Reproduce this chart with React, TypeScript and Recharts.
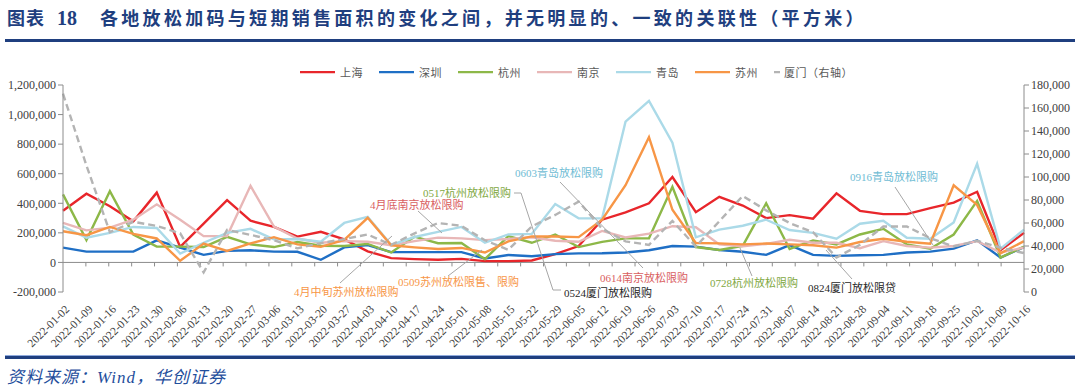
import React from 'react';
import { LineChart, Line, XAxis, YAxis, ReferenceLine } from 'recharts';

// 周度日期
const dates = [
  '2022-01-02', '2022-01-09', '2022-01-16', '2022-01-23', '2022-01-30', '2022-02-06', '2022-02-13',
  '2022-02-20', '2022-02-27', '2022-03-06', '2022-03-13', '2022-03-20', '2022-03-27', '2022-04-03',
  '2022-04-10', '2022-04-17', '2022-04-24', '2022-05-01', '2022-05-08', '2022-05-15', '2022-05-22',
  '2022-05-29', '2022-06-05', '2022-06-12', '2022-06-19', '2022-06-26', '2022-07-03', '2022-07-10',
  '2022-07-17', '2022-07-24', '2022-07-31', '2022-08-07', '2022-08-14', '2022-08-21', '2022-08-28',
  '2022-09-04', '2022-09-11', '2022-09-18', '2022-09-25', '2022-10-02', '2022-10-09', '2022-10-16',
];

// 各城市销售面积（平方米）
const shanghai = [
  350000, 465000, 380000, 278000, 472000, 105000, 262000, 422000, 282000, 240000, 175000, 207000, 156000, 75000,
  29000, 22000, 18000, 24000, 9000, 9000, 13000, 56000, 111000, 289000, 338000, 400000, 578000, 340000,
  444000, 385000, 300000, 320000, 296000, 467000, 349000, 327000, 327000, 367000, 404000, 478000, 84000, 200000,
];
const shenzhen = [
  100000, 73000, 73000, 73000, 149000, 100000, 51000, 78000, 82000, 73000, 72000, 18000, 102000, 118000,
  70000, 70000, 70000, 70000, 27000, 50000, 42000, 56000, 61000, 62000, 67000, 82000, 111000, 107000,
  84000, 72000, 51000, 117000, 51000, 44000, 49000, 51000, 67000, 73000, 93000, 149000, 33000, 104000,
];
const hangzhou = [
  460000, 151000, 482000, 189000, 107000, 107000, 104000, 173000, 122000, 104000, 138000, 113000, 111000, 125000,
  67000, 174000, 130000, 131000, 22000, 178000, 133000, 189000, 104000, 139000, 163000, 163000, 511000, 104000,
  84000, 112000, 400000, 91000, 149000, 122000, 189000, 227000, 122000, 93000, 189000, 416000, 33000, 107000,
];
const nanjing = [
  267000, 217000, 235000, 289000, 393000, 289000, 178000, 178000, 518000, 242000, 162000, 133000, 144000, 140000,
  116000, 144000, 168000, 163000, 151000, 158000, 170000, 147000, 140000, 213000, 169000, 195000, 245000, 238000,
  122000, 109000, 125000, 153000, 133000, 133000, 96000, 144000, 111000, 100000, 111000, 144000, 67000, 100000,
];
const qingdao = [
  244000, 167000, 200000, 240000, 233000, 60000, 133000, 200000, 227000, 156000, 158000, 140000, 267000, 309000,
  119000, 172000, 207000, 240000, 133000, 189000, 193000, 395000, 298000, 298000, 952000, 1093000, 810000, 170000,
  222000, 248000, 289000, 219000, 200000, 160000, 262000, 282000, 167000, 160000, 271000, 667000, 93000, 222000,
];
const suzhou = [
  211000, 184000, 240000, 193000, 162000, 11000, 127000, 78000, 129000, 171000, 122000, 105000, 152000, 302000,
  116000, 102000, 91000, 98000, 67000, 142000, 176000, 175000, 171000, 289000, 522000, 847000, 356000, 131000,
  129000, 122000, 128000, 122000, 116000, 100000, 138000, 160000, 140000, 127000, 522000, 389000, 62000, 144000,
];
// 厦门（右轴）
const xiamen = [
  172500, 110000, 52000, 61000, 57500, 51000, 17000, 54000, 49700, 45000, 38000, 42500, 46000, 50000,
  41000, 51000, 60000, 57500, 45000, 36700, 57000, 67000, 78600, 55000, 44000, 41000, 61800, 39600,
  61500, 83500, 71000, 60000, 52000, 30000, 41000, 57000, 57000, 46800, 39600, 44500, 38500, 33800,
];

const leftTicks = [-200000, 0, 200000, 400000, 600000, 800000, 1000000, 1200000];
const rightTicks = [0, 20000, 40000, 60000, 80000, 100000, 120000, 140000, 160000, 180000];

const SERIF = "'Liberation Serif', 'Times New Roman', 'Noto Sans CJK SC', serif";
const CJK = "'Noto Sans CJK SC', sans-serif";
const NAVY = '#1F3F7F';
const AXIS = '#8C8C8C';
const LABEL = '#404040';

const seriesList = [
  { key: 'sh', name: '上海', values: shanghai, color: '#E8262B', axis: 'left', dash: undefined },
  { key: 'sz', name: '深圳', values: shenzhen, color: '#1F6FC5', axis: 'left', dash: undefined },
  { key: 'hz', name: '杭州', values: hangzhou, color: '#8DB848', axis: 'left', dash: undefined },
  { key: 'nj', name: '南京', values: nanjing, color: '#E8B7B7', axis: 'left', dash: undefined },
  { key: 'qd', name: '青岛', values: qingdao, color: '#ABDAE8', axis: 'left', dash: undefined },
  { key: 'suz', name: '苏州', values: suzhou, color: '#F79646', axis: 'left', dash: undefined },
  { key: 'xm', name: '厦门（右轴）', values: xiamen, color: '#B4B4B4', axis: 'right', dash: '7 4' },
];

const data = dates.map((d, i) => {
  const row: Record<string, any> = { date: d };
  seriesList.forEach((s) => { row[s.key] = s.values[i]; });
  return row;
});

const fmt = (v: number) => v.toLocaleString('en-US');

// 0 轴线 + 类目分隔刻度
const ZeroAxis = (props: any) => {
  const { x1, y1, x2 } = props;
  const step = (x2 - x1) / dates.length;
  return (
    <g>
      <line x1={x1} y1={y1} x2={x2} y2={y1} stroke={AXIS} strokeWidth={1} />
      {dates.slice(1).map((d, k) => {
        const x = x1 + step * (k + 1);
        return <line key={d} x1={x} x2={x} y1={y1} y2={y1 + 4} stroke={AXIS} strokeWidth={1} />;
      })}
    </g>
  );
};

const DateTick = (props: any) => {
  const { x, y, payload } = props;
  return (
    <g transform={`translate(${x},${y})`}>
      <text x={0} y={0} dx={-2} dy={12} textAnchor="end" transform="rotate(-45)"
        fontSize={11.5} fill={LABEL} fontFamily={SERIF}>
        {payload.value}
      </text>
    </g>
  );
};

// 标注：文字与引线
const notes = [
  { text: '4月中旬苏州放松限购', x: 294, y: 296, color: '#F79646' },
  { text: '0509苏州放松限售、限购', x: 398, y: 286, color: '#F79646' },
  { text: '4月底南京放松限购', x: 370, y: 209, color: '#D9605F' },
  { text: '0517杭州放松限购', x: 423, y: 197, color: '#7FA83F' },
  { text: '0603青岛放松限购', x: 515, y: 177, color: '#6FBCD4' },
  { text: '0614南京放松限购', x: 600, y: 282, color: '#D9605F' },
  { text: '0524厦门放松限购', x: 564, y: 297, color: '#262626' },
  { text: '0728杭州放松限购', x: 710, y: 287, color: '#7FA83F' },
  { text: '0824厦门放松限贷', x: 808, y: 292, color: '#262626' },
  { text: '0916青岛放松限购', x: 850, y: 181, color: '#6FBCD4' },
];
const leaders = [
  '340,283 392,236',
  '448,276 482,250',
  '418,211 442,233',
  '514,193 521,193 553,290 561,290',
  '560,182 643,268',
  '752,276 740,248',
  '852,279 826,250',
  '895,187 933,245',
];

const App: React.FC = () => {
  return (
    <div style={{ position: 'absolute', left: 0, top: 0, width: 1080, height: 388, background: '#fff', overflow: 'hidden' }}>
      {/* 标题 */}
      <div style={{ position: 'absolute', left: 7, top: 5, lineHeight: '24px', color: NAVY, fontWeight: 700, whiteSpace: 'nowrap' }}>
        <span style={{ fontFamily: CJK, fontSize: 18, letterSpacing: 1 }}>图表</span>
        <span style={{ fontFamily: SERIF, fontSize: 20, marginLeft: 12 }}>18</span>
      </div>
      <div style={{ position: 'absolute', left: 100, top: 5, lineHeight: '24px', color: NAVY, fontWeight: 700, fontFamily: CJK, fontSize: 18, letterSpacing: 3.3, whiteSpace: 'nowrap' }}>
        各地放松加码与短期销售面积的变化之间，并无明显的、一致的关联性（平方米）
      </div>
      <div style={{ position: 'absolute', left: 5, width: 1070, top: 39, height: 2.5, background: NAVY }} />

      {/* 图例 */}
      <div style={{ position: 'absolute', left: 300, top: 64, display: 'flex', alignItems: 'center', height: 16 }}>
        {seriesList.map((s) => (
          <div key={s.key} style={{ display: 'flex', alignItems: 'center', width: 79 }}>
            <svg width={36} height={6}>
              <line x1={0} y1={3} x2={35} y2={3} stroke={s.color} strokeWidth={2.25} strokeDasharray={s.dash} />
            </svg>
            <span style={{ fontFamily: CJK, fontSize: 11, color: '#595959', marginLeft: 4, letterSpacing: 0.5, whiteSpace: 'nowrap' }}>{s.name}</span>
          </div>
        ))}
      </div>

      <div style={{ position: 'absolute', left: 0, top: 0 }}>
        <LineChart width={1080} height={388} data={data} margin={{ top: 85, right: 0, bottom: 0, left: 0 }}>
          <XAxis dataKey="date" interval={0} height={96} axisLine={false} tickLine={false} tick={<DateTick />} />
          <YAxis yAxisId="left" width={63} domain={[-200000, 1200000]} ticks={leftTicks} tickFormatter={fmt}
            stroke={AXIS} tickSize={5} tickMargin={2} allowDataOverflow
            tick={{ fontSize: 12, fill: LABEL, fontFamily: SERIF }} />
          <YAxis yAxisId="right" orientation="right" width={56} domain={[0, 180000]} ticks={rightTicks} tickFormatter={fmt}
            stroke={AXIS} tickSize={5} tickMargin={2} allowDataOverflow
            tick={{ fontSize: 12, fill: LABEL, fontFamily: SERIF, textAnchor: 'start' }} />
          <ReferenceLine yAxisId="left" y={0} shape={<ZeroAxis />} />
          {seriesList.map((s) => (
            <Line key={s.key} yAxisId={s.axis} type="linear" dataKey={s.key} name={s.name} stroke={s.color}
              strokeWidth={2.4} strokeDasharray={s.dash} dot={false} activeDot={false} isAnimationActive={false} />
          ))}
        </LineChart>
      </div>

      {/* 标注 */}
      <svg width={1080} height={388} style={{ position: 'absolute', left: 0, top: 0, pointerEvents: 'none' }}>
        {leaders.map((p) => (
          <polyline key={p} points={p} fill="none" stroke="#A6A6A6" strokeWidth={1} />
        ))}
        {notes.map((n) => (
          <text key={n.text} x={n.x} y={n.y} fill={n.color} fontSize={11} fontFamily={SERIF}>{n.text}</text>
        ))}
      </svg>

      {/* 来源 */}
      <div style={{ position: 'absolute', left: 5, width: 1070, top: 355, height: 1, background: '#8FAADC' }} />
      <div style={{ position: 'absolute', left: 5, width: 1070, top: 356, height: 3, background: NAVY }} />
      <div style={{ position: 'absolute', left: 7, top: 367, lineHeight: '22px', fontSize: 17, letterSpacing: 1, fontStyle: 'italic', color: '#1F4E9C', fontFamily: SERIF, whiteSpace: 'nowrap' }}>
        资料来源：Wind，华创证券
      </div>
    </div>
  );
};

export default App;
